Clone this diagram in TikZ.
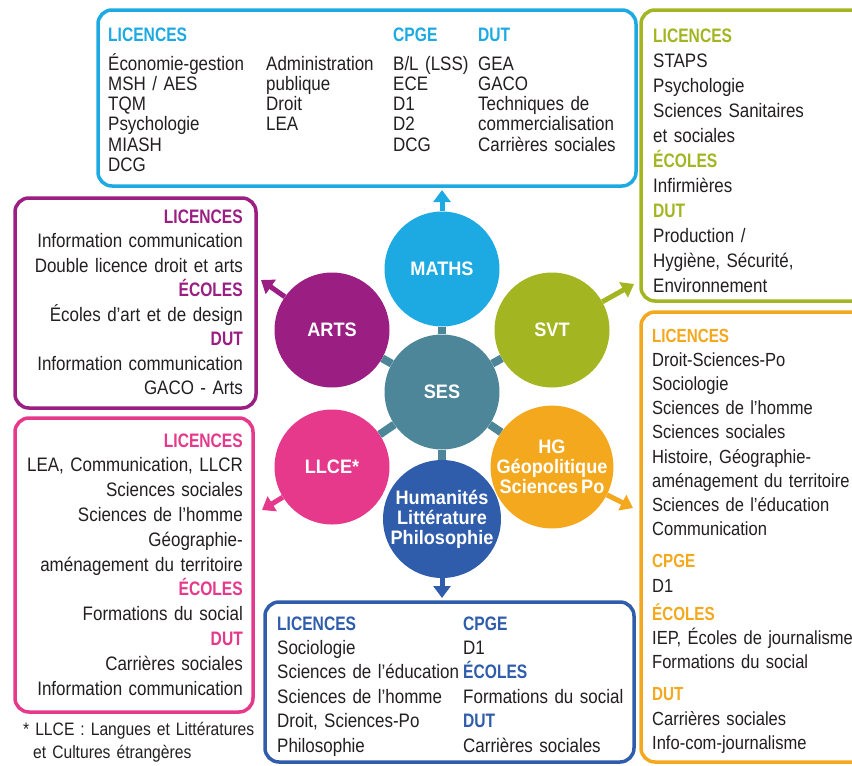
\documentclass[tikz,border=0pt]{standalone}
\usepackage{fontspec}
\setmainfont[FakeStretch=0.87, WordSpace=0.6, BoldFeatures={FakeStretch=0.93}]{Liberation Sans}
\newfontfamily\hdfont[FakeStretch=0.8]{Liberation Sans}
\usepackage{xcolor}
\usepackage{tikz}
\usetikzlibrary{arrows.meta}
\definecolor{mathscol}{HTML}{1DAAE2}
\definecolor{artscol}{HTML}{9B1E83}
\definecolor{svtcol}{HTML}{A4B522}
\definecolor{sescol}{HTML}{4D8599}
\definecolor{llcecol}{HTML}{E6398B}
\definecolor{hgcol}{HTML}{F4A81D}
\definecolor{humacol}{HTML}{2F5DAB}
\definecolor{ink}{HTML}{231F20}
\newcommand\titre[2]{{\color{#1}\hdfont\bfseries #2}}
\tikzstyle{disc} = [circle, minimum size=115pt, inner sep=0pt, text=white, align=center, font=\fontsize{19.5}{20}\selectfont\bfseries]
\tikzstyle{box} = [rectangle, rounded corners=14pt, line width=3.5pt, fill=white, inner sep=0pt]
\tikzstyle{lst} = [inner sep=0pt, text width=260pt, align=left, anchor=base west, text=ink]
\tikzstyle{lstr} = [inner sep=0pt, text width=235pt, align=right, anchor=base east, text=ink]
\tikzstyle{stem} = [line width=8pt, sescol]
\tikzstyle{arrow} = [line width=5pt, -{Triangle[width=17pt,length=12pt]}]

\begin{document}
\begin{tikzpicture}[x=1pt,y=-1pt]
    \useasboundingbox (0,0) rectangle (852,766);
    \clip (0,0) rectangle (852,766);
        \node (bmaths) [box, draw=mathscol, minimum width=538pt, minimum height=176pt] at (367,98) {};
        \node (bsvt) [box, draw=svtcol, minimum width=239pt, minimum height=291pt] at (760.5,155.5) {};
        \node (bhg) [box, draw=hgcol, minimum width=239pt, minimum height=450pt] at (760.5,537) {};
        \node (barts) [box, draw=artscol, minimum width=241pt, minimum height=210pt] at (135.5,303) {};
        \node (bllce) [box, draw=llcecol, minimum width=238pt, minimum height=294pt] at (134,565) {};
        \node (bhuma) [box, draw=humacol, minimum width=369pt, minimum height=160pt] at (449.5,682) {};

        \node (lmaths1) [lst, font=\fontsize{19.5}{20.3}\selectfont] at (108,41) {\titre{mathscol}{LICENCES}\\[8.7pt]
            Économie-gestion\\ MSH / AES\\ TQM\\ Psychologie\\ MIASH\\ DCG};
        \node (lmaths2) [lst, font=\fontsize{19.5}{20.3}\selectfont] at (266,70) {Administration\\ publique\\ Droit\\ LEA};
        \node (lmaths3) [lst, font=\fontsize{19.5}{20.3}\selectfont] at (393,41) {\titre{mathscol}{CPGE}\\[8.7pt]
            B/L (LSS)\\ ECE\\ D1\\ D2\\ DCG};
        \node (lmaths4) [lst, font=\fontsize{19.5}{20.3}\selectfont] at (478,41) {\titre{mathscol}{DUT}\\[8.7pt]
            GEA\\ GACO\\ Techniques de\\ commercialisation\\ Carrières sociales};

        \node (lsvt) [lst, font=\fontsize{19.5}{25}\selectfont] at (653,42) {\titre{svtcol}{LICENCES}\\
            STAPS\\ Psychologie\\ Sciences Sanitaires\\ et sociales\\
            \titre{svtcol}{ÉCOLES}\\ Infirmières\\
            \titre{svtcol}{DUT}\\ Production /\\ Hygiène, Sécurité,\\ Environnement};

        \node (lhg) [lst, font=\fontsize{19}{24.2}\selectfont] at (652,342) {\titre{hgcol}{LICENCES}\\
            Droit-Sciences-Po\\ Sociologie\\ Sciences de l’homme\\ Sciences sociales\\
            Histoire, Géographie-\\ aménagement du territoire\\ Sciences de l’éducation\\ Communication\\[8pt]
            \titre{hgcol}{CPGE}\\ D1\\[4pt]
            \titre{hgcol}{ÉCOLES}\\ IEP, Écoles de journalisme\\ Formations du social\\[8pt]
            \titre{hgcol}{DUT}\\ Carrières sociales\\ Info-com-journalisme};

        \node (larts) [lstr, font=\fontsize{19.5}{24.5}\selectfont] at (243,223) {\titre{artscol}{LICENCES}\\
            Information communication\\ Double licence droit et arts\\
            \titre{artscol}{ÉCOLES}\\ Écoles d’art et de design\\
            \titre{artscol}{DUT}\\ Information communication\\ GACO - Arts};

        \node (lllce) [lstr, font=\fontsize{19.5}{24.8}\selectfont] at (243,447) {\titre{llcecol}{LICENCES}\\
            LEA, Communication, LLCR\\ Sciences sociales\\ Sciences de l’homme\\ Géographie-\\ aménagement du territoire\\
            \titre{llcecol}{ÉCOLES}\\ Formations du social\\
            \titre{llcecol}{DUT}\\ Carrières sociales\\ Information communication};

        \node (lhuma1) [lst, font=\fontsize{19.5}{24.4}\selectfont] at (277,630) {\titre{humacol}{LICENCES}\\
            Sociologie\\ Sciences de l’éducation\\ Sciences de l’homme\\ Droit, Sciences-Po\\ Philosophie};
        \node (lhuma2) [lst, font=\fontsize{19.5}{24.4}\selectfont] at (463,630) {\titre{humacol}{CPGE}\\ D1\\
            \titre{humacol}{ÉCOLES}\\ Formations du social\\
            \titre{humacol}{DUT}\\ Carrières sociales};

        \node (note) [lst, font=\fontsize{18}{23}\selectfont] at (23,735) {* LLCE : Langues et Littératures\\
            \hspace*{10pt}et Cultures étrangères};

        \node (ses) [disc, fill=sescol] at (442,392) {SES};
        \node (maths) [disc, fill=mathscol] at (442,269) {MATHS};
        \node (arts) [disc, fill=artscol] at (332,330) {ARTS};
        \node (svt) [disc, fill=svtcol] at (552,330) {SVT};
        \node (llce) [disc, fill=llcecol] at (332,467) {LLCE*};
        \node (hg) [disc, fill=hgcol] at (552,467) {HG\\ Géopolitique\\ Sciences Po};
        \node (huma) [disc, fill=humacol] at (442,519) {Humanités\\ Littérature\\ Philosophie};

        \draw [stem] (ses) -- (maths);
        \draw [stem] (ses) -- (arts);
        \draw [stem] (ses) -- (svt);
        \draw [stem] (ses) -- (llce);
        \draw [stem] (ses) -- (hg);
        \draw [stem] (ses) -- (huma);

        \coordinate (tmaths) at (442,190);
        \coordinate (tarts) at (261,280);
        \coordinate (tsvt) at (634,284);
        \coordinate (tllce) at (262,510);
        \coordinate (thg) at (633,508);
        \coordinate (thuma) at (442,598);
        \draw [arrow, mathscol] (maths) -- (tmaths);
        \draw [arrow, artscol] (arts) -- (tarts);
        \draw [arrow, svtcol] (svt) -- (tsvt);
        \draw [arrow, llcecol] (llce) -- (tllce);
        \draw [arrow, hgcol] (hg) -- (thg);
        \draw [arrow, humacol] (huma) -- (thuma);
    \end{tikzpicture}
\end{document}
